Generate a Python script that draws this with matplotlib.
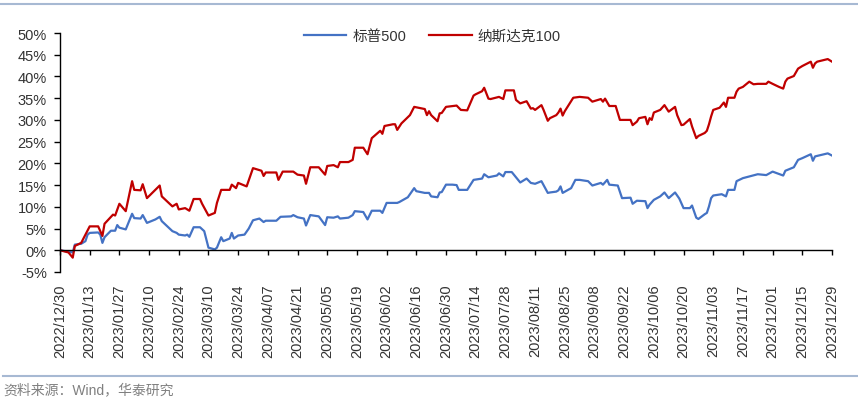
import matplotlib
matplotlib.use("Agg")
import matplotlib.pyplot as plt
import matplotlib.dates as mdates
from matplotlib.lines import Line2D
import pandas as pd

# S&P 500 (blue) cumulative return, %
blue_dates = [
    "2022-12-30", "2023-01-05", "2023-01-06", "2023-01-09", "2023-01-11", "2023-01-12", "2023-01-13",
    "2023-01-17", "2023-01-18", "2023-01-19", "2023-01-20", "2023-01-23", "2023-01-25", "2023-01-26",
    "2023-01-27", "2023-01-30", "2023-02-02", "2023-02-03", "2023-02-06", "2023-02-07", "2023-02-09",
    "2023-02-13", "2023-02-15", "2023-02-16", "2023-02-21", "2023-02-23", "2023-02-24", "2023-02-27",
    "2023-02-28", "2023-03-01", "2023-03-03", "2023-03-06", "2023-03-08", "2023-03-09", "2023-03-10",
    "2023-03-13", "2023-03-14", "2023-03-16", "2023-03-17", "2023-03-20", "2023-03-21", "2023-03-22",
    "2023-03-24", "2023-03-27", "2023-03-29", "2023-03-31", "2023-04-03", "2023-04-05", "2023-04-06",
    "2023-04-11", "2023-04-13", "2023-04-18", "2023-04-19", "2023-04-21", "2023-04-24", "2023-04-25",
    "2023-04-27", "2023-05-01", "2023-05-04", "2023-05-05", "2023-05-08", "2023-05-10", "2023-05-11",
    "2023-05-15", "2023-05-17", "2023-05-18", "2023-05-22", "2023-05-24", "2023-05-26", "2023-05-30",
    "2023-05-31", "2023-06-02", "2023-06-07", "2023-06-08", "2023-06-12", "2023-06-15", "2023-06-16",
    "2023-06-20", "2023-06-22", "2023-06-23", "2023-06-26", "2023-06-27", "2023-06-28", "2023-06-30",
    "2023-07-03", "2023-07-05", "2023-07-06", "2023-07-10", "2023-07-13", "2023-07-17", "2023-07-18",
    "2023-07-20", "2023-07-24", "2023-07-25", "2023-07-27", "2023-07-28", "2023-07-31", "2023-08-02",
    "2023-08-04", "2023-08-07", "2023-08-09", "2023-08-11", "2023-08-14", "2023-08-17", "2023-08-18",
    "2023-08-21", "2023-08-22", "2023-08-23", "2023-08-24", "2023-08-28", "2023-08-30", "2023-09-01",
    "2023-09-05", "2023-09-07", "2023-09-11", "2023-09-12", "2023-09-14", "2023-09-15", "2023-09-19",
    "2023-09-21", "2023-09-25", "2023-09-26", "2023-09-28", "2023-10-02", "2023-10-03", "2023-10-04",
    "2023-10-06", "2023-10-09", "2023-10-11", "2023-10-13", "2023-10-16", "2023-10-18", "2023-10-20",
    "2023-10-23", "2023-10-24", "2023-10-26", "2023-10-27", "2023-10-30", "2023-10-31", "2023-11-01",
    "2023-11-02", "2023-11-03", "2023-11-07", "2023-11-09", "2023-11-10", "2023-11-13", "2023-11-14",
    "2023-11-17", "2023-11-21", "2023-11-24", "2023-11-28", "2023-12-01", "2023-12-06", "2023-12-07",
    "2023-12-11", "2023-12-13", "2023-12-14", "2023-12-15", "2023-12-19", "2023-12-20", "2023-12-21",
    "2023-12-27", "2023-12-29",
]
blue_vals = [
    0.0, -0.5, 1.3, 1.5, 2.1, 3.6, 4.0,
    4.1, 3.6, 1.7, 3.0, 4.5, 4.5, 5.8,
    5.2, 4.8, 8.4, 7.4, 7.3, 8.1, 6.3,
    7.1, 7.7, 6.7, 4.4, 4.0, 3.6, 3.4,
    3.6, 3.1, 5.3, 5.3, 4.4, 2.5, 0.6,
    0.2, 0.6, 3.0, 2.1, 2.7, 4.0, 2.7,
    3.4, 3.6, 5.0, 6.9, 7.3, 6.5, 6.8,
    6.8, 7.7, 7.8, 8.1, 7.6, 7.3, 5.7,
    8.1, 7.8, 5.8, 7.6, 7.5, 7.8, 7.3,
    7.5, 8.1, 9.0, 8.8, 7.1, 9.1, 9.1,
    8.6, 10.9, 10.9, 11.1, 12.2, 14.3, 13.6,
    13.2, 13.2, 12.4, 12.2, 13.3, 13.4, 15.1,
    15.1, 15.0, 13.9, 13.9, 16.2, 16.5, 17.5,
    16.8, 17.2, 17.7, 17.0, 18.0, 18.0, 16.8,
    15.6, 16.5, 15.5, 15.3, 15.9, 13.2, 13.3,
    13.5, 13.8, 14.7, 13.2, 14.3, 16.2, 16.2,
    15.9, 14.9, 15.5, 15.1, 16.2, 15.1, 14.9,
    12.0, 12.1, 10.7, 11.4, 11.3, 9.7, 10.5,
    11.6, 12.4, 13.3, 12.0, 13.3, 11.9, 9.7,
    9.7, 10.3, 7.5, 7.2, 8.3, 8.6, 10.1,
    12.0, 12.6, 12.9, 12.4, 13.9, 13.9, 15.9,
    16.6, 17.1, 17.5, 17.3, 18.1, 17.2, 18.3,
    19.1, 20.8, 21.0, 21.2, 22.1, 20.6, 21.6,
    22.3, 21.8,
]

# Nasdaq 100 (red) cumulative return, %
red_dates = [
    "2022-12-30", "2023-01-03", "2023-01-05", "2023-01-06", "2023-01-09", "2023-01-11", "2023-01-13",
    "2023-01-17", "2023-01-19", "2023-01-20", "2023-01-24", "2023-01-25", "2023-01-27", "2023-01-30",
    "2023-02-02", "2023-02-03", "2023-02-06", "2023-02-07", "2023-02-09", "2023-02-15", "2023-02-16",
    "2023-02-21", "2023-02-23", "2023-02-24", "2023-02-27", "2023-03-01", "2023-03-03", "2023-03-06",
    "2023-03-07", "2023-03-10", "2023-03-13", "2023-03-14", "2023-03-16", "2023-03-20", "2023-03-21",
    "2023-03-23", "2023-03-24", "2023-03-28", "2023-03-31", "2023-04-04", "2023-04-05", "2023-04-06",
    "2023-04-11", "2023-04-12", "2023-04-14", "2023-04-19", "2023-04-21", "2023-04-24", "2023-04-25",
    "2023-04-27", "2023-05-01", "2023-05-04", "2023-05-05", "2023-05-08", "2023-05-10", "2023-05-11",
    "2023-05-15", "2023-05-17", "2023-05-18", "2023-05-22", "2023-05-24", "2023-05-26", "2023-05-30",
    "2023-05-31", "2023-06-01", "2023-06-05", "2023-06-06", "2023-06-07", "2023-06-09", "2023-06-13",
    "2023-06-15", "2023-06-20", "2023-06-21", "2023-06-22", "2023-06-23", "2023-06-26", "2023-06-27",
    "2023-06-28", "2023-06-30", "2023-07-05", "2023-07-07", "2023-07-10", "2023-07-13", "2023-07-14",
    "2023-07-17", "2023-07-18", "2023-07-20", "2023-07-21", "2023-07-25", "2023-07-27", "2023-07-28",
    "2023-08-01", "2023-08-02", "2023-08-04", "2023-08-07", "2023-08-09", "2023-08-10", "2023-08-11",
    "2023-08-14", "2023-08-15", "2023-08-17", "2023-08-18", "2023-08-21", "2023-08-22", "2023-08-23",
    "2023-08-24", "2023-08-25", "2023-08-29", "2023-09-01", "2023-09-05", "2023-09-07", "2023-09-11",
    "2023-09-12", "2023-09-13", "2023-09-15", "2023-09-18", "2023-09-20", "2023-09-25", "2023-09-26",
    "2023-09-28", "2023-09-29", "2023-10-02", "2023-10-03", "2023-10-04", "2023-10-05", "2023-10-06",
    "2023-10-09", "2023-10-11", "2023-10-13", "2023-10-16", "2023-10-17", "2023-10-19", "2023-10-20",
    "2023-10-23", "2023-10-24", "2023-10-26", "2023-10-27", "2023-10-30", "2023-10-31", "2023-11-01",
    "2023-11-02", "2023-11-03", "2023-11-06", "2023-11-08", "2023-11-09", "2023-11-10", "2023-11-13",
    "2023-11-14", "2023-11-15", "2023-11-17", "2023-11-20", "2023-11-22", "2023-11-24", "2023-11-28",
    "2023-11-29", "2023-12-01", "2023-12-04", "2023-12-06", "2023-12-07", "2023-12-08", "2023-12-11",
    "2023-12-13", "2023-12-15", "2023-12-19", "2023-12-20", "2023-12-21", "2023-12-22", "2023-12-27",
    "2023-12-29",
]
red_vals = [
    0.0, -0.5, -1.7, 1.0, 1.7, 3.6, 5.5,
    5.5, 3.3, 6.1, 8.2, 8.0, 10.7, 9.0,
    15.9, 13.9, 13.8, 15.2, 12.0, 14.9, 12.4,
    10.1, 10.7, 9.4, 9.7, 9.1, 11.8, 11.8,
    10.7, 8.0, 8.6, 10.9, 13.9, 13.9, 15.1,
    14.3, 15.5, 14.7, 18.9, 18.3, 17.1, 17.9,
    17.9, 16.2, 18.1, 18.1, 17.4, 17.2, 15.3,
    19.1, 19.1, 17.4, 19.4, 19.6, 19.1, 20.3,
    20.3, 20.8, 23.6, 23.6, 22.1, 25.8, 27.5,
    26.8, 28.6, 29.0, 29.0, 27.7, 29.2, 31.1,
    33.0, 32.5, 31.1, 32.0, 31.1, 29.7, 31.5,
    31.6, 33.0, 33.3, 32.3, 32.2, 35.6, 35.9,
    36.6, 37.4, 34.9, 34.8, 35.3, 34.8, 36.8,
    36.8, 34.6, 33.8, 34.3, 32.6, 32.7, 32.3,
    33.4, 32.3, 29.8, 30.4, 31.1, 31.7, 32.6,
    31.0, 32.0, 35.1, 35.3, 35.1, 34.2, 34.8,
    34.2, 34.9, 33.2, 33.2, 30.0, 30.0, 28.8,
    29.6, 30.4, 30.7, 29.0, 30.4, 30.0, 31.7,
    32.3, 33.4, 31.9, 33.0, 31.1, 28.8, 28.9,
    30.2, 28.5, 25.8, 26.3, 27.0, 27.5, 29.0,
    30.8, 32.3, 32.8, 34.0, 33.0, 35.1, 35.1,
    36.5, 37.2, 37.6, 38.8, 38.2, 38.3, 38.3,
    38.8, 38.3, 37.6, 37.2, 38.8, 39.5, 40.1,
    41.8, 42.4, 43.4, 42.0, 43.0, 43.4, 44.0,
    43.4,
]

series_names = ["标普500", "纳斯达克100"]
y_ticks = list(range(-5, 51, 5))
x_ticks = pd.date_range("2022-12-30", "2023-12-29", freq="14D")
source_text = "资料来源：Wind，华泰研究"

blue_color = "#4472C4"
red_color = "#C00000"
rule_color = "#A7B9D3"
text_color = "#333333"

plt.rcParams["font.family"] = ["Liberation Sans", "Noto Sans CJK SC", "DejaVu Sans"]

W, H = 858, 406
fig = plt.figure(figsize=(W / 100, H / 100), dpi=100)
ax = fig.add_axes([60 / W, 1 - 273 / H, (832 - 60) / W, (273 - 34) / H])

ax.plot(pd.to_datetime(blue_dates), blue_vals, color=blue_color, lw=1.6, label=series_names[0])
ax.plot(pd.to_datetime(red_dates), red_vals, color=red_color, lw=1.6, label=series_names[1])

ax.set_xlim(pd.Timestamp("2022-12-30"), pd.Timestamp("2023-12-29"))
ax.set_ylim(-5, 50)

ax.set_yticks(y_ticks)
ax.set_yticklabels([f"{v}%" for v in y_ticks])
ax.set_xticks(x_ticks)
ax.xaxis.set_major_formatter(mdates.DateFormatter("%Y/%m/%d"))

for s in ["top", "right"]:
    ax.spines[s].set_visible(False)
ax.spines["bottom"].set_position(("data", 0))
for s in ["left", "bottom"]:
    ax.spines[s].set_color("#000000")
    ax.spines[s].set_linewidth(1.0)

ax.tick_params(axis="y", direction="out", length=4, width=1, pad=5.5,
               labelsize=10.5, labelcolor=text_color)
ax.tick_params(axis="x", direction="out", length=3.5, width=1, pad=20.5,
               labelsize=10.5, labelcolor=text_color, labelrotation=90)

fig.legend(loc="center", bbox_to_anchor=(0.504, 1 - 37 / H), ncol=2, frameon=False,
           fontsize=10.5, handlelength=2.9, handletextpad=0.4, columnspacing=1.6,
           labelcolor=text_color)

# separator rules and source note
fig.add_artist(Line2D([0, 1], [1 - 5 / H] * 2, transform=fig.transFigure,
                      color=rule_color, lw=1.5))
fig.add_artist(Line2D([0.003, 1], [1 - 377 / H] * 2, transform=fig.transFigure,
                      color=rule_color, lw=1.5))
fig.text(3 / W, 1 - 390 / H, source_text, fontsize=10, color="#808080", va="center", ha="left")

fig.savefig("out.png", dpi=100)
